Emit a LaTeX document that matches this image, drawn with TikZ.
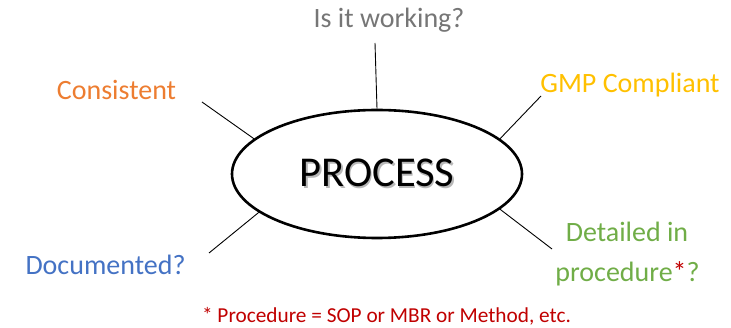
\documentclass[tikz,border=0pt]{standalone}
\usepackage{fontspec}
\setmainfont{Carlito}
\usetikzlibrary{shapes.geometric}
\definecolor{cgray}{RGB}{118,118,118}
\definecolor{corange}{RGB}{237,125,49}
\definecolor{cgold}{RGB}{255,192,0}
\definecolor{cblue}{RGB}{68,114,196}
\definecolor{cgreen}{RGB}{112,173,71}
\definecolor{cred}{RGB}{192,0,0}
\newcommand{\shadowword}[1]{\makebox[0pt][l]{\hspace{1.6pt}\raisebox{-1.6pt}{\textcolor{black!28}{#1}}}#1}
\begin{document}
\begin{tikzpicture}[x=1pt,y=-1pt,
  procbox/.style={ellipse,draw=black,line width=2.6pt,minimum width=290pt,minimum height=128pt,inner sep=0pt},
  label/.style={anchor=base,inner sep=0pt,font=\fontsize{28pt}{32pt}\selectfont},
  bigtext/.style={inner sep=0pt,font=\fontsize{42.5pt}{48pt}\selectfont},
  spoke/.style={draw=black,line width=0.9pt},
  foot/.style={anchor=base,inner sep=0pt,text=cred,font=\fontsize{21.3pt}{25pt}\selectfont}]
\useasboundingbox (0,0) rectangle (731,328);
\node[procbox] (proc) at (377,174) {};
\node[bigtext] (proctext) at (proc.center) {\shadowword{PROCESS}};
% labels
\node[label,text=cgray] (work) at (389,28) {Is it working?};
\node[label,text=corange] (cons) at (116.5,100) {Consistent};
\node[label,text=cgold] (gmp) at (630,93) {GMP Compliant};
\node[label,text=cblue] (doc) at (105.5,275) {Documented?};
\node[label,text=cgreen] (det1) at (627,242) {Detailed in};
\node[label,text=cgreen] (det2) at (627.5,282) {procedure{\color{cred}*}?};
\node[foot] (note) at (386.5,323) {* Procedure = SOP or MBR or Method, etc.};
% spoke ends
\coordinate (tw) at (375,43);
\coordinate (tc) at (202,102);
\coordinate (tg) at (541,96);
\coordinate (td) at (209,253);
\coordinate (tp) at (552,249);
\draw[spoke] (tw) -- (proc.north);
\draw[spoke] (tc) -- (proc.164.7);
\draw[spoke] (tg) -- (proc.16.4);
\draw[spoke] (td) -- (proc.198.1);
\draw[spoke] (tp) -- (proc.344.4);
\end{tikzpicture}
\end{document}
